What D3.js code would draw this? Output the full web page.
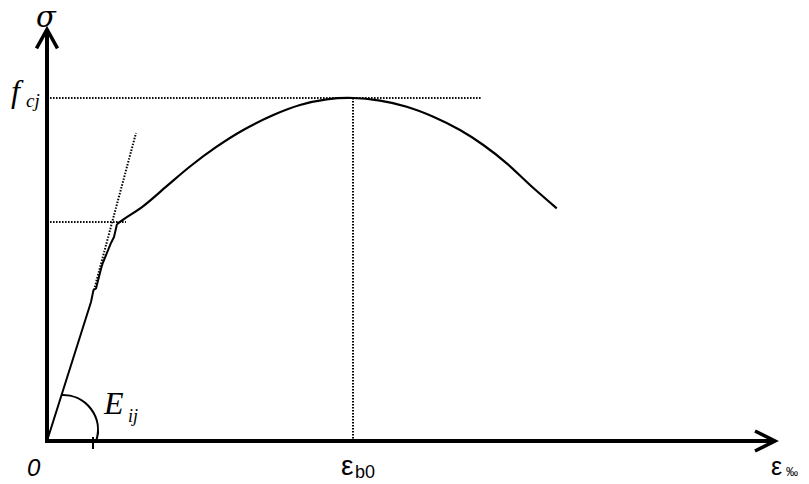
<!DOCTYPE html>
<html>
<head>
<meta charset="UTF-8">
<script src="https://d3js.org/d3.v7.min.js"></script>
<style>
  * { margin: 0; padding: 0; box-sizing: border-box; }
  body { background: #fff; }
  svg { display: block; }
  .serif { font-family: "Liberation Serif", "DejaVu Serif", serif; font-style: italic; }
  .sans { font-family: "Liberation Sans", Arial, sans-serif; }
</style>
</head>
<body>
<div id="chart"></div>
<script>
// strain (‰) / stress (relative to fcj)
const epsB0 = 2.0;
const fcj = 1.0;
const sigmaKink = 0.6385;

// near-linear elastic branch (with small kinks)
const elasticEps   = [0, 0.2876, 0.3039, 0.3203, 0.3562, 0.3660, 0.4183, 0.4379, 0.4575];
const elasticSigma = [0, 0.4052, 0.4402, 0.4446, 0.5073, 0.5204, 0.5773, 0.5948, 0.6327];

// parabolic branch up to the peak and beyond
const curveEps   = [0.4575, 0.5098, 0.6294, 0.7824, 0.9346, 1.1092, 1.2830, 1.4791, 1.6536, 1.8281, 2.0,
                    2.1765, 2.3510, 2.5248, 2.6993, 2.8516, 3.0046, 3.1569, 3.3314];
const curveSigma = [0.6327, 0.6490, 0.6851, 0.7429, 0.8003, 0.8580, 0.9067, 0.9504, 0.9796, 0.9962, 1.0,
                    0.9921, 0.9746, 0.9455, 0.9067, 0.8630, 0.8096, 0.7464, 0.6784];

// tangent (initial modulus) dotted line
const tangentEps   = [0.3072, 0.5817];
const tangentSigma = [0.4402, 0.8980];

const W = 809, H = 484;
const x = d3.scaleLinear().domain([0, 4.758]).range([47, 775]);
const y = d3.scaleLinear().domain([0, 1.2]).range([441, 29.4]);

const svg = d3.select("#chart").append("svg")
    .attr("width", W).attr("height", H);

const line = d3.line().x(d => x(d[0])).y(d => y(d[1]));
const smooth = d3.line().x(d => x(d[0])).y(d => y(d[1])).curve(d3.curveCatmullRom.alpha(0.5));

// dotted guide lines
const dotted = g => g.attr("stroke", "#000").attr("stroke-width", 2)
    .attr("stroke-dasharray", "1.5,1.5").attr("fill", "none");

svg.append("path").call(dotted)
    .attr("d", line([[0.02, fcj], [2.843, fcj]]));
svg.append("path").call(dotted)
    .attr("d", line([[epsB0, fcj], [epsB0, 0]]));
svg.append("path").call(dotted)
    .attr("d", line([[0.02, sigmaKink], [0.516, sigmaKink]]));
svg.append("path").call(dotted)
    .attr("d", line(d3.zip(tangentEps, tangentSigma)));

// stress-strain curve
svg.append("path")
    .attr("d", line(d3.zip(elasticEps, elasticSigma)))
    .attr("fill", "none").attr("stroke", "#000").attr("stroke-width", 2)
    .attr("stroke-linejoin", "round");
svg.append("path")
    .attr("d", smooth(d3.zip(curveEps, curveSigma)))
    .attr("fill", "none").attr("stroke", "#000").attr("stroke-width", 2.2);

// axes
const x0 = x(0), y0 = y(0), xEnd = x.range()[1], yTop = y.range()[1];
svg.append("line").attr("x1", x0).attr("y1", y0 + 2).attr("x2", x0).attr("y2", yTop + 1)
    .attr("stroke", "#000").attr("stroke-width", 4);
svg.append("line").attr("x1", x0 - 2).attr("y1", y0).attr("x2", xEnd - 1).attr("y2", y0)
    .attr("stroke", "#000").attr("stroke-width", 4);
svg.append("path")
    .attr("d", `M${x0 - 10.5},${yTop + 19}L${x0},${yTop}L${x0 + 10.5},${yTop + 19}`)
    .attr("fill", "none").attr("stroke", "#000").attr("stroke-width", 3.5);
svg.append("path")
    .attr("d", `M${xEnd - 20},${y0 - 10}L${xEnd},${y0}L${xEnd - 20},${y0 + 10}`)
    .attr("fill", "none").attr("stroke", "#000").attr("stroke-width", 3.5);

// angle arc for Eij
const arc = d3.path();
arc.arc(x0 + 16, y0 - 11, 35, -Math.PI / 2 - 0.03, 0.29);
svg.append("path").attr("d", arc.toString())
    .attr("fill", "none").attr("stroke", "#000").attr("stroke-width", 2.2);
svg.append("line").attr("x1", x0 + 46).attr("x2", x0 + 46)
    .attr("y1", y0 - 4).attr("y2", y0 + 8)
    .attr("stroke", "#000").attr("stroke-width", 2);

// labels
const txt = (cls, px, py, size, s, anchor) => svg.append("text")
    .attr("class", cls).attr("x", px).attr("y", py)
    .attr("font-size", size).attr("text-anchor", anchor || "start").text(s);

txt("serif", x0 - 1, 27, 29, "σ", "middle").style("font-family", '"DejaVu Serif", serif');
txt("serif", 11, y(fcj) + 4, 32, "f");
txt("serif", 26, y(fcj) + 9, 19, "cj");
txt("serif", 104, 414, 32, "E");
txt("serif", 128, 422, 18, "ij");
txt("sans", 27, 476, 24, "0").attr("font-style", "italic");
txt("sans", 341, 475, 28, "ε");
txt("sans", 355, 478, 18, "b0");
txt("sans", 771, 475, 25, "ε");
txt("sans", 786, 476, 12, "‰");
</script>
</body>
</html>
